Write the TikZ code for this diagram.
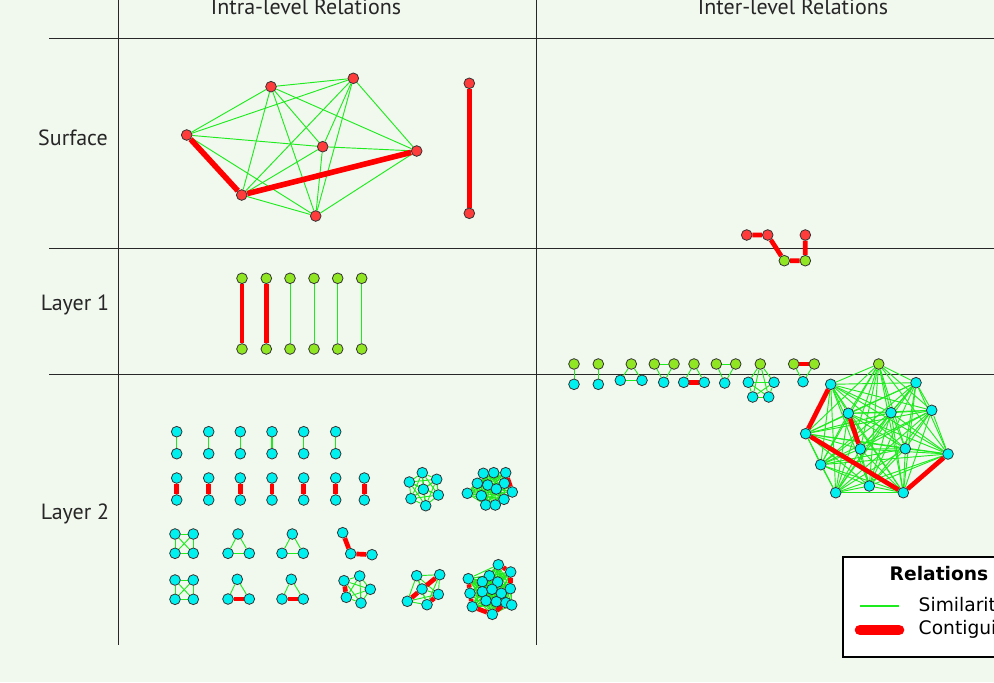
\documentclass[tikz,border=0pt]{standalone}
\usepackage{fontspec}
\setmainfont{PT Sans}
\newfontfamily\legfont{DejaVu Sans}
\pgfdeclarelayer{back}
\pgfdeclarelayer{bg}
\pgfsetlayers{back,bg,main}
\definecolor{bgc}{RGB}{241,248,238}
\definecolor{nodered}{RGB}{255,60,60}
\definecolor{nodegreen}{RGB}{145,230,35}
\definecolor{nodecyan}{RGB}{0,240,240}
\definecolor{simgreen}{RGB}{30,235,30}
\definecolor{gridc}{RGB}{40,40,40}
\tikzset{
 nd/.style={circle,draw=black!80,line width=0.6pt,inner sep=0pt,minimum size=8pt},
 rn/.style={nd,fill=nodered},
 gn/.style={nd,fill=nodegreen},
 cn/.style={nd,fill=nodecyan},
 sim/.style={draw=simgreen,line width=0.7pt},
 con/.style={draw=red,line width=3.5pt},
 gridline/.style={draw=gridc,line width=0.7pt},
 lbl/.style={font=\fontsize{16.5}{18}\selectfont,text=black!85},
}
\newcommand\mkclique[2]{\foreach \i in {1,...,#2}{\foreach \j in {1,...,#2}{\ifnum\i<\j \draw[sim] (#1\i)--(#1\j);\fi}}}
\begin{document}
\begin{tikzpicture}[x=0.75pt,y=-0.75pt]
\begin{pgfonlayer}{back}
\fill[bgc] (0,0) rectangle (994,682);
\end{pgfonlayer}
\useasboundingbox (0,0) rectangle (994,682);
\clip (0,0) rectangle (994,682);
% grid
\coordinate (v1t) at (118,0); \coordinate (v1b) at (118,645);
\coordinate (v2t) at (536,0); \coordinate (v2b) at (536,645);
\coordinate (h1l) at (49,38); \coordinate (h1r) at (994,38);
\coordinate (h2l) at (49,248); \coordinate (h2r) at (994,248);
\coordinate (h3l) at (49,374); \coordinate (h3r) at (994,374);
\begin{pgfonlayer}{back}
\draw[gridline] (v1t)--(v1b); \draw[gridline] (v2t)--(v2b);
\draw[gridline] (h1l)--(h1r); \draw[gridline] (h2l)--(h2r); \draw[gridline] (h3l)--(h3r);
\end{pgfonlayer}
% labels
\node[lbl,anchor=base] (hd1) at (306,14) {Intra-level Relations};
\node[lbl,anchor=base] (hd2) at (793,14) {Inter-level Relations};
\node[lbl] (rl1) at (73,138) {Surface};
\node[lbl] (rl2) at (75,305) {Layer 1};
\node[lbl] (rl3) at (75,514) {Layer 2};
% ---- surface intra
\node[rn] (sa) at (186.7,135) {};
\node[rn] (sb) at (271,86.7) {};
\node[rn] (sc) at (353.3,78.3) {};
\node[rn] (sd) at (322.7,146.7) {};
\node[rn] (se) at (416.7,151) {};
\node[rn] (sf) at (241.7,195) {};
\node[rn] (sg) at (315.7,216) {};
\node[rn] (sh) at (469.3,83.3) {};
\node[rn] (si) at (469.3,213.3) {};
% ---- surface-layer1 inter
\node[rn] (ia) at (746.7,235) {};
\node[rn] (ib) at (767.7,235) {};
\node[rn] (ic) at (805.3,235) {};
\node[gn] (id) at (784.3,260.7) {};
\node[gn] (ie) at (805.3,260.7) {};
% ---- layer 1 intra
\foreach \x [count=\k] in {242,266.3,290,314,337.7,361.7}{
  \node[gn] (lt\k) at (\x,278.3) {};
  \node[gn] (lb\k) at (\x,349) {};
}
% ---- layer1-layer2 inter
\node[gn] (ua1) at (574,364) {}; \node[cn] (ub1) at (574,384.3) {};
\node[gn] (ua2) at (598.3,364) {}; \node[cn] (ub2) at (598.3,384.3) {};
\node[gn] (v1) at (631.3,364) {}; \node[cn] (v2) at (620.3,380.3) {}; \node[cn] (v3) at (642,380.3) {};
\node[gn] (w1) at (654.3,364) {}; \node[gn] (w2) at (674,364) {}; \node[cn] (w3) at (663.7,382.3) {};
\node[gn] (x1) at (694,364) {}; \node[cn] (x2) at (683.7,382.3) {}; \node[cn] (x3) at (704.3,382.3) {};
\node[gn] (y1) at (716.3,364) {}; \node[gn] (y2) at (735.7,364) {}; \node[cn] (y3) at (724.7,383) {};
\node[gn] (z1) at (760.3,364) {}; \node[cn] (z2) at (748.3,382.3) {}; \node[cn] (z3) at (774,382.3) {};
\node[cn] (z4) at (752.7,397) {}; \node[cn] (z5) at (768.7,397) {};
\node[gn] (t1) at (793.7,364) {}; \node[gn] (t2) at (814.3,364) {}; \node[cn] (t3) at (803,381.7) {};
% big cluster
\node[cn] (k1) at (830.7,384.3) {};
\node[cn] (k2) at (916,382.7) {};
\node[cn] (k3) at (848.3,413.3) {};
\node[cn] (k4) at (891,412.7) {};
\node[cn] (k5) at (931.7,410.3) {};
\node[cn] (k6) at (805.7,433.7) {};
\node[cn] (k7) at (860.3,449) {};
\node[cn] (k8) at (905.3,448.7) {};
\node[cn] (k9) at (948,454) {};
\node[cn] (k10) at (820.7,464.7) {};
\node[cn] (k11) at (835.7,492.7) {};
\node[cn] (k12) at (869.3,486) {};
\node[cn] (k13) at (903.3,492.7) {};
\node[gn] (k14) at (878.7,364) {};
% ---- layer 2 intra
\foreach \x [count=\k] in {176.7,208.7,240.3,272,303.7,335.7}{
  \node[cn] (pt\k) at (\x,431.7) {};
  \node[cn] (pb\k) at (\x,453.7) {};
}
\foreach \x [count=\k] in {176.7,208.7,240.3,272,303.7,335.7,364.3}{
  \node[cn] (rt\k) at (\x,478) {};
  \node[cn] (rb\k) at (\x,500) {};
}
\node[cn] (q1) at (175,534) {}; \node[cn] (q2) at (193.3,534) {};
\node[cn] (q3) at (175,553.3) {}; \node[cn] (q4) at (193.3,553.3) {};
\node[cn] (ta1) at (238,534) {}; \node[cn] (ta2) at (228,553.3) {}; \node[cn] (ta3) at (249.3,553.3) {};
\node[cn] (tb1) at (292.3,534) {}; \node[cn] (tb2) at (282,553.3) {}; \node[cn] (tb3) at (303.3,553.3) {};
\node[cn] (pa1) at (342.7,532.7) {}; \node[cn] (pa2) at (350.7,553.7) {}; \node[cn] (pa3) at (372,554.7) {};
\node[cn] (r1) at (175,580) {}; \node[cn] (r2) at (193.3,580) {};
\node[cn] (r3) at (175,599.3) {}; \node[cn] (r4) at (193.3,599.3) {};
\node[cn] (tc1) at (237.3,579.3) {}; \node[cn] (tc2) at (228,599) {}; \node[cn] (tc3) at (249.3,599) {};
\node[cn] (td1) at (291.3,579.3) {}; \node[cn] (td2) at (282,599) {}; \node[cn] (td3) at (303.3,599) {};
\node[cn] (pe1) at (344,580.7) {}; \node[cn] (pe2) at (359.7,576) {}; \node[cn] (pe3) at (370.3,589.3) {};
\node[cn] (pe4) at (361,603) {}; \node[cn] (pe5) at (346.3,597.3) {};
\node[cn] (h1) at (416.7,575.7) {}; \node[cn] (h2) at (439.7,574.7) {}; \node[cn] (h3) at (422,589) {};
\node[cn] (h4) at (438.3,594.3) {}; \node[cn] (h5) at (407.3,601.3) {}; \node[cn] (h6) at (427,604.7) {};
\node[cn] (o1) at (422.3,472.7) {}; \node[cn] (o2) at (436.7,479.3) {}; \node[cn] (o3) at (409.3,482) {};
\node[cn] (o4) at (423.3,489.3) {}; \node[cn] (o5) at (438.3,495) {}; \node[cn] (o6) at (411,498.7) {};
\node[cn] (o7) at (425.7,505.7) {};
\node[cn] (n1) at (483.3,473.3) {}; \node[cn] (n2) at (493.7,472.7) {}; \node[cn] (n3) at (505.7,472.7) {};
\node[cn] (n4) at (477.3,483.3) {}; \node[cn] (n5) at (487.7,485) {}; \node[cn] (n6) at (504.3,483.3) {};
\node[cn] (n7) at (467.3,493.3) {}; \node[cn] (n8) at (481.3,495.7) {}; \node[cn] (n9) at (496.3,489) {};
\node[cn] (n10) at (512.3,492) {}; \node[cn] (n11) at (504,499.3) {}; \node[cn] (n12) at (485.7,505) {};
\node[cn] (n13) at (495.3,505) {};
\node[cn] (m1) at (468.3,578.7) {}; \node[cn] (m2) at (498.3,564.7) {}; \node[cn] (m3) at (510.7,572) {};
\node[cn] (m4) at (489.3,575.7) {}; \node[cn] (m5) at (482.3,581.7) {}; \node[cn] (m6) at (497.7,582) {};
\node[cn] (m7) at (470,593.3) {}; \node[cn] (m8) at (482.3,591.7) {}; \node[cn] (m9) at (492,589.3) {};
\node[cn] (m10) at (501.3,593.3) {}; \node[cn] (m11) at (510.3,588.7) {}; \node[cn] (m12) at (472.3,606.7) {};
\node[cn] (m13) at (486,600.7) {}; \node[cn] (m14) at (496.3,601.7) {}; \node[cn] (m15) at (506,602.7) {};
\node[cn] (m16) at (511.7,605) {}; \node[cn] (m17) at (492.3,614.3) {};
% ---- edges
\begin{pgfonlayer}{bg}
\foreach \a/\b in {sa/sb,sa/sc,sa/sd,sa/sg,sb/sc,sb/sd,sb/se,sb/sf,sb/sg,sc/sd,sc/se,sc/sf,sc/sg,sd/se,sd/sf,sd/sg,se/sg,sf/sg}
  \draw[sim] (\a)--(\b);
\draw[con,line width=4.2pt] (sa)--(sf) (sf)--(se);
\draw[con] (sh)--(si);
\draw[con] (ia)--(ib) (ib)--(id) (id)--(ie) (ic)--(ie);
\foreach \k in {1,2} \draw[con] (lt\k)--(lb\k);
\foreach \k in {3,...,6} \draw[sim] (lt\k)--(lb\k);
\draw[sim] (ua1)--(ub1); \draw[sim] (ua2)--(ub2);
\mkclique{v}{3} \mkclique{w}{3} \mkclique{y}{3} \mkclique{z}{5}
\draw[sim] (x1)--(x2) (x1)--(x3); \draw[con] (x2)--(x3);
\draw[sim] (t1)--(t3) (t2)--(t3); \draw[con] (t1)--(t2);
\mkclique{k}{14}
\draw[con] (k1)--(k6) (k6)--(k13) (k13)--(k9) (k3)--(k7);
\foreach \k in {1,...,6} \draw[sim,line width=0.9pt] (pt\k)--(pb\k);
\foreach \k in {1,...,7} \draw[con] (rt\k)--(rb\k);
\mkclique{q}{4} \mkclique{ta}{3} \mkclique{tb}{3} \mkclique{r}{4}
\draw[con] (pa1)--(pa2) (pa2)--(pa3);
\draw[sim] (tc1)--(tc2) (tc1)--(tc3); \draw[con] (tc2)--(tc3);
\draw[sim] (td1)--(td2) (td1)--(td3); \draw[con] (td2)--(td3);
\mkclique{pe}{5} \draw[con] (pe1)--(pe5);
\mkclique{h}{6} \draw[con] (h5)--(h3) (h3)--(h2) (h6)--(h4);
\mkclique{o}{7}
\mkclique{n}{13} \draw[con] (n3)--(n10);
\mkclique{m}{17}
\draw[con] (m1)--(m7) (m7)--(m12) (m12)--(m17) (m17)--(m15) (m2)--(m3) (m3)--(m11);
\end{pgfonlayer}
% ---- legend
\node[draw=black,line width=1.5pt,fill=white,inner sep=0pt,anchor=north west,minimum height=75pt,minimum width=150pt] (leg) at (842,556) {};
\node[font=\legfont\bfseries\fontsize{14}{16}\selectfont,anchor=base] (legt) at (939,580) {Relations};
\coordinate (l1a) at (860,606); \coordinate (l1b) at (899,606);
\draw[sim,line width=1.2pt] (l1a)--(l1b);
\coordinate (l2a) at (860,630); \coordinate (l2b) at (899,630);
\draw[con,line width=8pt,line cap=round] (l2a)--(l2b);
\node[font=\legfont\fontsize{14}{16}\selectfont,anchor=west] (lgs) at (914,606) {Similarity};
\node[font=\legfont\fontsize{14}{16}\selectfont,anchor=west] (lgc) at (914,629) {Contiguity};
\end{tikzpicture}
\end{document}
